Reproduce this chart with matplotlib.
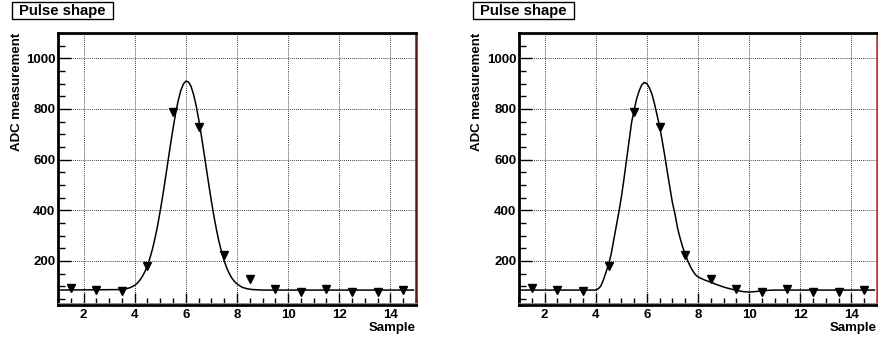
import matplotlib
matplotlib.use("Agg")
import matplotlib.pyplot as plt
from matplotlib.patches import Rectangle

plt.rcParams['font.family'] = ['Liberation Sans', 'DejaVu Sans']
plt.rcParams['font.weight'] = 'bold'

# ---- data ----
samples = [1.5, 2.5, 3.5, 4.5, 5.5, 6.5, 7.5, 8.5, 9.5, 10.5, 11.5, 12.5, 13.5, 14.5]
adc_values = [92, 85, 83, 180, 789, 727, 225, 130, 88, 77, 91, 77, 79, 84]

# left panel fitted curve
fit_left_x = [1.0, 3.5, 3.6, 3.7, 3.8, 3.9, 4.0, 4.1, 4.2, 4.3, 4.4, 4.5, 4.6, 4.7, 4.8, 4.9,
              5.0, 5.1, 5.2, 5.3, 5.4, 5.5, 5.6, 5.7, 5.8, 5.9, 6.0, 6.1, 6.2, 6.3, 6.4,
              6.5, 6.6, 6.7, 6.8, 6.9, 7.0, 7.1, 7.2, 7.3, 7.4, 7.5, 7.6, 7.7, 7.8, 7.9,
              8.0, 8.2, 8.4, 8.6, 8.8, 9.0, 14.9]
fit_left_y = [85, 87, 89, 91, 94, 98, 104, 112, 124, 139, 158, 182, 213, 249, 293, 342,
              399, 460, 525, 593, 660, 724, 783, 833, 872, 898, 910, 907, 890, 858, 814,
              760, 699, 633, 566, 499, 435, 375, 322, 274, 234, 200, 172, 150, 132, 119,
              109, 96, 90, 87, 86, 85, 85]

# right panel fitted curve
fit_right_x = [1.0, 4.0, 4.1, 4.2, 4.3, 4.4, 4.5, 4.6, 4.7, 4.8, 4.9, 5.0, 5.1, 5.2, 5.3,
               5.4, 5.5, 5.6, 5.7, 5.8, 5.9, 6.0, 6.1, 6.2, 6.3, 6.4, 6.5, 6.6, 6.7, 6.8,
               6.9, 7.0, 7.1, 7.2, 7.3, 7.4, 7.5, 7.6, 7.7, 7.8, 7.9, 8.0, 8.25, 8.5,
               8.75, 9.0, 9.25, 9.5, 9.75, 10.0, 10.25, 10.5, 10.75, 11.0, 14.9]
fit_right_y = [85, 85, 90, 101, 125, 155, 185, 225, 280, 335, 390, 450, 520, 595, 670,
               745, 795, 840, 872, 895, 905, 900, 884, 858, 820, 775, 731, 675, 615, 552,
               490, 430, 385, 330, 290, 255, 228, 200, 178, 160, 146, 137, 125, 116,
               106, 97, 90, 84, 79, 77, 79, 82, 84, 85, 85]

title = "Pulse shape"
xlabel = "Sample"
ylabel = "ADC measurement"
x_major = [2, 4, 6, 8, 10, 12, 14]
y_major = [200, 400, 600, 800, 1000]

W, H = 879, 343
fig = plt.figure(figsize=(W / 100, H / 100), dpi=100)
fig.patch.set_facecolor('white')

panels = [
    dict(left=58, right=416, fx=fit_left_x, fy=fit_left_y, rcol='#5a1a1a',
         box=(12, 113), ylab_x=16.5),
    dict(left=519, right=877, fx=fit_right_x, fy=fit_right_y, rcol='#c03030',
         box=(473, 574), ylab_x=477),
]
top_px, bot_px = 33, 305

for p in panels:
    wpx = p['right'] - p['left']
    ax = fig.add_axes([p['left'] / W, 1 - bot_px / H, wpx / W, (bot_px - top_px) / H])
    ax.set_xlim(1, 15)
    ax.set_ylim(26, 1100)
    ax.plot(p['fx'], p['fy'], color='black', lw=1.1, zorder=3)
    ax.plot(samples, adc_values, linestyle='none', marker='v', color='black',
            markersize=5.5, zorder=4)
    ax.set_xticks(x_major)
    ax.set_yticks(y_major)
    ax.set_xticks([v + 0.5 for v in range(1, 15)] + [v for v in range(1, 16, 2)], minor=True)
    ax.set_yticks([v for v in range(50, 1100, 50) if v % 200 != 0], minor=True)
    ax.tick_params(which='both', direction='in', top=False, right=False, width=1.0,
                   labelsize=9.5, color='black')
    ax.tick_params(which='major', length=9)
    ax.tick_params(axis='y', which='major', pad=2)
    ax.tick_params(axis='x', which='major', pad=3)
    ax.tick_params(which='minor', length=5)
    for lab in ax.get_xticklabels() + ax.get_yticklabels():
        lab.set_fontweight('bold')
    ax.grid(True, which='major', linestyle=(0, (1, 1.5)), color='black', lw=0.6)
    for s in ('left', 'top', 'bottom'):
        ax.spines[s].set_color('black')
        ax.spines[s].set_linewidth(2.0)
    ax.spines['right'].set_color(p['rcol'])
    ax.spines['right'].set_linewidth(1.8)
    ax.plot([0, 1], [0.006, 0.006], transform=ax.transAxes, color='#e07070', lw=0.7,
            clip_on=False, zorder=5)
    ax.set_xlabel(xlabel, fontsize=9.5, fontweight='bold', loc='right')
    ax.xaxis.set_label_coords(1.0, -(328 - bot_px) / (bot_px - top_px))
    ax.xaxis.label.set_va('center')
    ax.set_ylabel(ylabel, fontsize=9.5, fontweight='bold', loc='top')
    ax.yaxis.set_label_coords((p['ylab_x'] - p['left']) / wpx, 1.0)
    ax.yaxis.label.set_va('center')

    # title box
    bx0, bx1 = p['box']
    fig.patches.append(Rectangle((bx0 / W, 1 - 19 / H), (bx1 - bx0) / W, 17 / H,
                                 transform=fig.transFigure, facecolor='white',
                                 edgecolor='black', lw=1.0))
    fig.text((bx0 + bx1) / 2 / W, 1 - 10.5 / H, title, ha='center', va='center',
             fontsize=10.7, fontweight='bold')

fig.savefig('out.png', dpi=100)
